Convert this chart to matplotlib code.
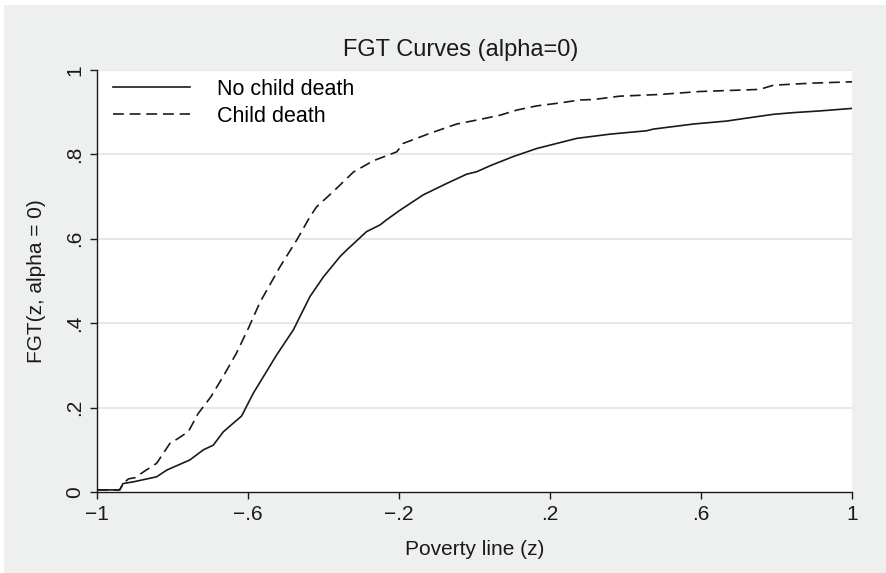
import numpy as np
import matplotlib
matplotlib.use("Agg")
import matplotlib.pyplot as plt
from matplotlib.patches import Rectangle

plt.rcParams['font.family'] = ['Liberation Sans', 'DejaVu Sans']

# No child death (solid)
z_nodeath = [-1.0, -0.94, -0.931, -0.904, -0.842, -0.815, -0.754, -0.718, -0.692,
             -0.665, -0.617, -0.586, -0.524, -0.48, -0.436, -0.40, -0.356, -0.339,
             -0.286, -0.25, -0.233, -0.197, -0.136, -0.074, -0.021, 0.006, 0.041,
             0.103, 0.165, 0.218, 0.271, 0.359, 0.456, 0.474, 0.58, 0.668, 0.721,
             0.792, 0.845, 0.915, 1.0]
fgt_nodeath = [0.005, 0.005, 0.02, 0.024, 0.036, 0.052, 0.076, 0.10, 0.111,
               0.143, 0.18, 0.234, 0.325, 0.384, 0.463, 0.51, 0.558, 0.573,
               0.617, 0.633, 0.645, 0.668, 0.704, 0.731, 0.753, 0.759, 0.773,
               0.795, 0.814, 0.826, 0.838, 0.848, 0.856, 0.86, 0.872, 0.879, 0.886,
               0.895, 0.899, 0.903, 0.909]

# Child death (dashed)
z_death = [-1.0, -0.94, -0.93, -0.917, -0.899, -0.873, -0.842, -0.807, -0.785,
           -0.758, -0.732, -0.698, -0.665, -0.63, -0.598, -0.568, -0.515, -0.471,
           -0.436, -0.418, -0.374, -0.321, -0.268, -0.206, -0.189, -0.118, -0.047,
           0.015, 0.068, 0.112, 0.165, 0.227, 0.279, 0.315, 0.385, 0.491, 0.596,
           0.755, 0.792, 0.897, 1.0]
fgt_death = [0.005, 0.005, 0.02, 0.031, 0.034, 0.05, 0.068, 0.115, 0.127,
             0.143, 0.186, 0.226, 0.275, 0.33, 0.39, 0.45, 0.534, 0.597,
             0.652, 0.676, 0.712, 0.758, 0.785, 0.806, 0.826, 0.85, 0.872,
             0.883, 0.893, 0.905, 0.915, 0.922, 0.929, 0.93, 0.938, 0.942, 0.949,
             0.954, 0.964, 0.969, 0.972]

xticks = [-1, -0.6, -0.2, 0.2, 0.6, 1]
xticklabels = ['\u22121', '\u2212.6', '\u2212.2', '.2', '.6', '1']
yticks = [0, 0.2, 0.4, 0.6, 0.8, 1]
yticklabels = ['0', '.2', '.4', '.6', '.8', '1']

bg = '#eef0f0'
ink = '#1a1a1a'

fig = plt.figure(figsize=(8.87, 5.73), dpi=100, facecolor='white')
fig.patches.append(Rectangle((4 / 887, 0), 1, 1 - 5 / 573, transform=fig.transFigure,
                             facecolor=bg, edgecolor='none', zorder=-10))
ax = fig.add_axes([97 / 887, 81 / 573, 755 / 887, 422 / 573])
ax.set_facecolor('white')

ax.plot(z_nodeath, fgt_nodeath, color=ink, lw=1.2, label='No child death')
ax.plot(z_death, fgt_death, color=ink, lw=1.2, dashes=(6.5, 3.5), label='Child death')

ax.set_xlim(-1, 1)
ax.set_ylim(0, 1)
ax.set_xticks(xticks)
ax.set_xticklabels(xticklabels)
ax.set_yticks(yticks)
ax.set_yticklabels(yticklabels, rotation=90, va='center')
ax.tick_params(direction='out', length=5, width=1, colors=ink, labelsize=15, pad=4)

for y in yticks[1:]:
    ax.axhline(y, color='#e6e8e8', lw=1.5, zorder=0)

for s in ['top', 'right']:
    ax.spines[s].set_visible(False)
for s in ['left', 'bottom']:
    ax.spines[s].set_color(ink)
    ax.spines[s].set_linewidth(1.0)

ax.set_title('FGT Curves (alpha=0)', fontsize=17, color=ink, pad=10, x=0.482)
ax.set_xlabel('Poverty line (z)', fontsize=15, color=ink, labelpad=12)
ax.set_ylabel('FGT(z, alpha = 0)', fontsize=15, color=ink, labelpad=14)

ax.legend(loc='upper left', frameon=False, fontsize=15.5, handlelength=3.6,
          handletextpad=1.25, labelspacing=0.3, borderaxespad=0.0,
          borderpad=0.3, bbox_to_anchor=(0.012, 0.995))

fig.savefig('out.png', dpi=100, facecolor=fig.get_facecolor())
